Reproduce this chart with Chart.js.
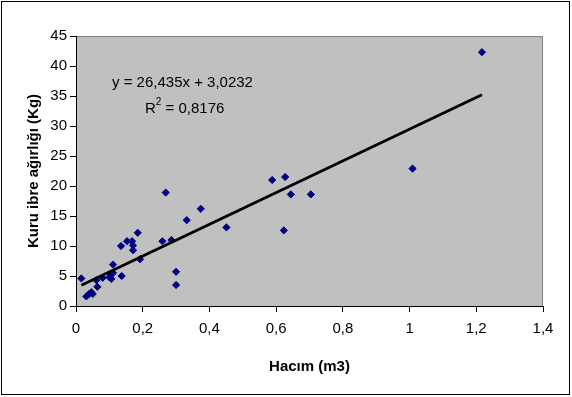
<!DOCTYPE html>
<html>
<head>
<meta charset="utf-8">
<script src="https://cdn.jsdelivr.net/npm/chart.js@4"></script>
<style>
  html, body { margin: 0; padding: 0; background: #fff; }
  #wrap { width: 572px; height: 397px; }
</style>
</head>
<body>
<div id="wrap"><canvas id="grafico" width="572" height="397"></canvas></div>
<script>
// hacim (m3) ve kuru ibre agirligi (kg)
const hacim = [0.016, 0.031, 0.039, 0.046, 0.05, 0.061, 0.064, 0.08, 0.1, 0.104, 0.106, 0.111, 0.111, 0.137,
    0.135, 0.153, 0.168, 0.171, 0.171, 0.185, 0.192, 0.259, 0.269, 0.286, 0.3, 0.3, 0.332, 0.374, 0.451,
    0.588, 0.623, 0.627, 0.644, 0.704, 1.009, 1.217];
const agirlik = [4.6, 1.6, 2.0, 2.3, 2.0, 4.3, 3.2, 4.7, 4.8, 5.2, 4.5, 5.5, 6.9, 5.0,
    10.0, 10.8, 10.8, 10.1, 9.3, 12.2, 7.8, 10.8, 18.9, 11.0, 5.7, 3.5, 14.3, 16.2, 13.1,
    21.0, 12.6, 21.5, 18.6, 18.6, 22.9, 42.3];

// trend cizgisi (dogrusal)
const egim = 26.435;
const sabit = 3.0232;
const denklem = "y = 26,435x + 3,0232";
const r2Text = "0,8176";

const xTickLabels = ["0", "0,2", "0,4", "0,6", "0,8", "1", "1,2", "1,4"];
const yTickLabels = ["0", "5", "10", "15", "20", "25", "30", "35", "40", "45"];

const xMin = Math.min(...hacim);
const xMax = Math.max(...hacim);
const trend = [
    { x: xMin, y: egim * xMin + sabit },
    { x: xMax, y: egim * xMax + sabit }
];

const fonte = "'Liberation Sans', Arial, sans-serif";

const fundoPlugin = {
    id: "fundo",
    beforeDraw(chart) {
        const c = chart.ctx;
        const a = chart.chartArea;
        c.save();
        c.fillStyle = "#fff";
        c.fillRect(0, 0, chart.width, chart.height);
        c.strokeStyle = "#000";
        c.lineWidth = 1;
        c.strokeRect(1.5, 1.5, 568, 393);
        c.fillStyle = "#C0C0C0";
        c.fillRect(a.left, a.top, a.right - a.left, a.bottom - a.top);
        c.strokeStyle = "#808080";
        c.beginPath();
        c.moveTo(a.left, a.top + 0.5);
        c.lineTo(a.right - 0.5, a.top + 0.5);
        c.lineTo(a.right - 0.5, a.bottom);
        c.stroke();
        c.restore();
    },
    afterDatasetsDraw(chart) {
        const c = chart.ctx;
        c.save();
        c.fillStyle = "#000";
        c.font = "15px " + fonte;
        c.textBaseline = "alphabetic";
        c.fillText(denklem, 112, 87);
        c.fillText("R", 145, 113);
        const rw = c.measureText("R").width;
        c.font = "10px " + fonte;
        c.fillText("2", 145 + rw, 105);
        const sw = c.measureText("2").width;
        c.font = "15px " + fonte;
        c.fillText(" = " + r2Text, 145 + rw + sw, 113);
        c.restore();
    }
};

const ctx = document.getElementById("grafico").getContext("2d");

new Chart(ctx, {
    type: "scatter",
    data: {
        datasets: [
            {
                label: "Veri",
                data: hacim.map((x, i) => ({ x: x, y: agirlik[i] })),
                pointStyle: "rectRot",
                pointRadius: 3.6,
                backgroundColor: "#000080",
                borderColor: "#000080",
                borderWidth: 1,
                order: 2
            },
            {
                label: "Trend",
                type: "line",
                data: trend,
                borderColor: "#000",
                borderWidth: 2.8,
                pointRadius: 0,
                fill: false,
                order: 1
            }
        ]
    },
    options: {
        responsive: false,
        animation: false,
        layout: { padding: { top: 36, right: 29, left: 0, bottom: 0 } },
        plugins: {
            legend: { display: false },
            tooltip: { enabled: false }
        },
        scales: {
            x: {
                type: "linear",
                min: 0,
                max: 1.4,
                ticks: {
                    stepSize: 0.2,
                    color: "#000",
                    font: { family: fonte, size: 15 },
                    padding: 8,
                    maxRotation: 0,
                    callback: (v, i) => xTickLabels[i]
                },
                grid: { drawOnChartArea: false, drawTicks: true, tickLength: 6, color: "#000" },
                border: { color: "#000", width: 1 },
                title: {
                    display: true,
                    text: "Hacım (m3)",
                    color: "#000",
                    font: { family: fonte, size: 15, weight: "bold" },
                    padding: { top: 0, bottom: 21 }
                },
                afterFit(scale) { scale.height = 91; }
            },
            y: {
                type: "linear",
                min: 0,
                max: 45,
                ticks: {
                    stepSize: 5,
                    color: "#000",
                    font: { family: fonte, size: 15 },
                    padding: 3,
                    callback: (v, i) => yTickLabels[i]
                },
                grid: { drawOnChartArea: false, drawTicks: true, tickLength: 6, color: "#000" },
                border: { color: "#000", width: 1 },
                title: {
                    display: true,
                    text: "Kuru ibre ağırlığı (Kg)",
                    color: "#000",
                    font: { family: fonte, size: 15, weight: "bold" },
                    padding: { top: 25, bottom: 0 }
                },
                afterFit(scale) { scale.width = 76; }
            }
        }
    },
    plugins: [fundoPlugin]
});
</script>
</body>
</html>
